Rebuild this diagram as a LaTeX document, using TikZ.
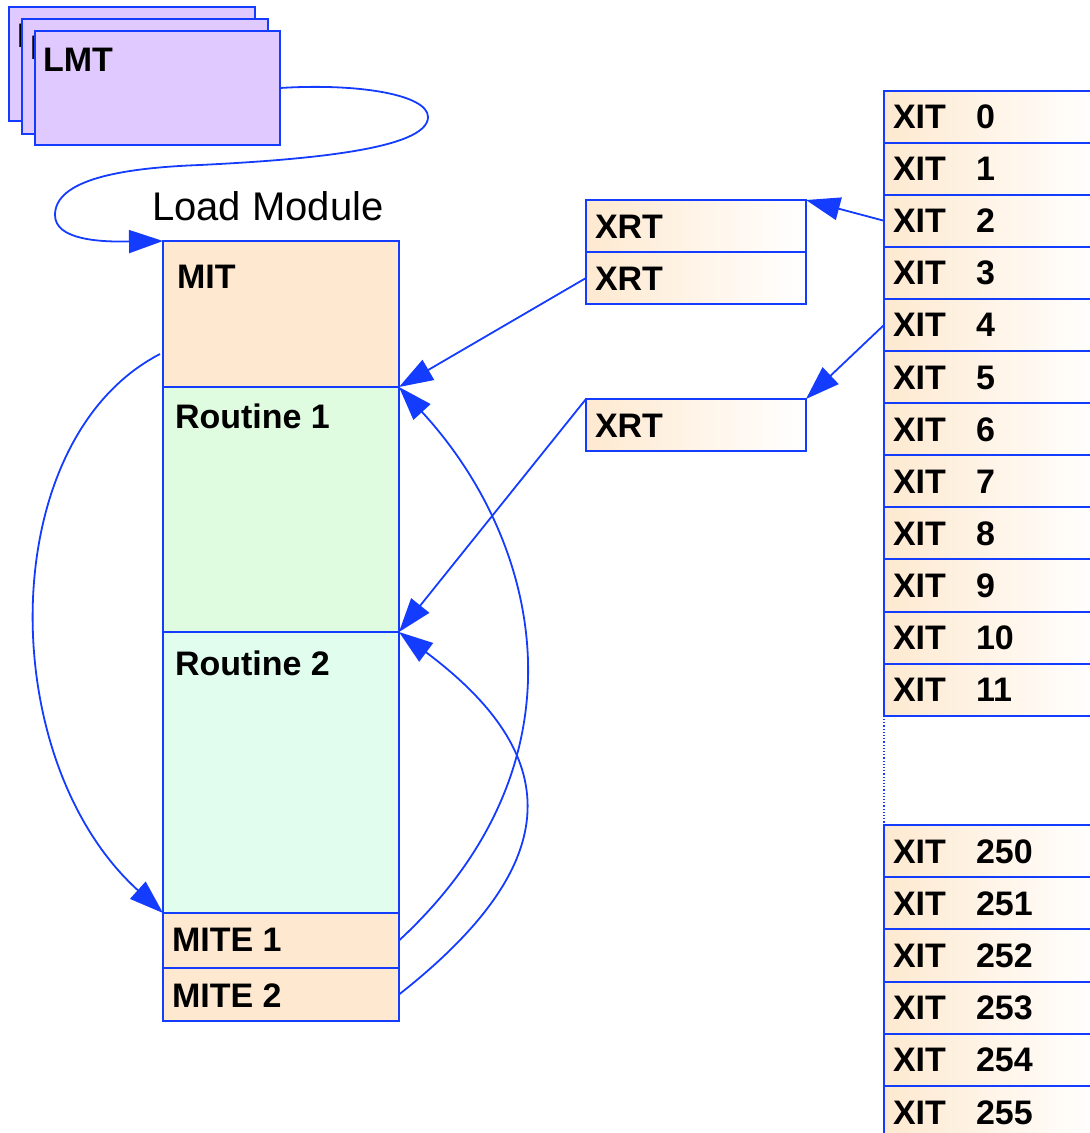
\documentclass[tikz,border=0pt]{standalone}
\usepackage{fontspec}
\setmainfont{Liberation Sans}
\usetikzlibrary{arrows.meta}
\definecolor{peach}{RGB}{254,233,208}
\definecolor{greenA}{RGB}{223,252,224}
\definecolor{greenB}{RGB}{224,253,238}
\definecolor{lav}{RGB}{223,201,255}
\definecolor{lblue}{RGB}{20,60,255}
\tikzset{
  box/.style={draw=lblue, line width=2pt, rectangle, inner sep=0pt, outer sep=0pt},
  lbl/.style={font=\fontsize{34}{40}\selectfont\bfseries, inner sep=0pt, outer sep=0pt, anchor=base west},
  conn/.style={draw=lblue, line width=1.8pt},
  arr/.style={conn, -{Triangle[length=34pt,width=23pt]}},
}
\begin{document}
\begin{tikzpicture}[x=1pt,y=-1pt]
\useasboundingbox (0,0) rectangle (1090,1133);
% LMT stack
\node[box, fill=lav, minimum width=246pt, minimum height=114pt, anchor=north west] (lmtA) at (9,7) {};
\node[lbl] (lmtAt) at ([shift={(8,40)}]lmtA.north west) {LMT};
\node[box, fill=lav, minimum width=246pt, minimum height=115pt, anchor=north west] (lmtB) at (22,19) {};
\node[lbl] (lmtBt) at ([shift={(8,40)}]lmtB.north west) {LMT};
\node[box, fill=lav, minimum width=245pt, minimum height=114pt, anchor=north west] (lmt) at (35,31) {};
\node[lbl] (lmtt) at ([shift={(8,40)}]lmt.north west) {LMT};

% Load module
\node[anchor=base west, inner sep=0pt, font=\fontsize{40}{48}\selectfont] (lm) at (152,220) {Load Module};
\node[box, fill=peach, minimum width=236pt, minimum height=146pt, anchor=north west] (mit) at (163,241) {};
\node[box, fill=greenA, minimum width=236pt, minimum height=245pt, anchor=north west] (r1) at (163,387) {};
\node[box, fill=greenB, minimum width=236pt, minimum height=281pt, anchor=north west] (r2) at (163,632) {};
\node[box, fill=peach, minimum width=236pt, minimum height=55pt, anchor=north west] (mite1) at (163,913) {};
\node[box, fill=peach, minimum width=236pt, minimum height=53pt, anchor=north west] (mite2) at (163,968) {};
\node[lbl] (mitt) at ([shift={(14,47)}]mit.north west) {MIT};
\node[lbl] (r1t) at ([shift={(12,41)}]r1.north west) {Routine 1};
\node[lbl] (r2t) at ([shift={(12,43)}]r2.north west) {Routine 2};
\node[lbl] (mite1t) at ([shift={(9,38)}]mite1.north west) {MITE 1};
\node[lbl] (mite2t) at ([shift={(9,39)}]mite2.north west) {MITE 2};

% XRT boxes
\node[box, left color=peach, right color=white, minimum width=220pt, minimum height=52pt, anchor=north west] (xrt1) at (586,200) {};
\node[box, left color=peach, right color=white, minimum width=220pt, minimum height=52pt, anchor=north west] (xrt2) at (586,252) {};
\node[box, left color=peach, right color=white, minimum width=220pt, minimum height=52pt, anchor=north west] (xrt3) at (586,399) {};
\node[lbl] (xrt1t) at ([shift={(9,38)}]xrt1.north west) {XRT};
\node[lbl] (xrt2t) at ([shift={(9,38)}]xrt2.north west) {XRT};
\node[lbl] (xrt3t) at ([shift={(9,38)}]xrt3.north west) {XRT};

% XIT column
\foreach \i in {0,...,11}{
  \node[box, left color=peach, right color=white, minimum width=216pt, minimum height=52.1pt, anchor=north west] (xit\i) at (884,{90.5+\i*52.1}) {};
  \node[lbl] (xitt\i) at ([shift={(9,38)}]xit\i.north west) {\makebox[83pt][l]{XIT}\i};
}
\foreach \i in {250,...,255}{
  \node[box, left color=peach, right color=white, minimum width=216pt, minimum height=52.2pt, anchor=north west] (xit\i) at (884,{825+(\i-250)*52.2}) {};
  \node[lbl] (xitt\i) at ([shift={(9,38)}]xit\i.north west) {\makebox[83pt][l]{XIT}\i};
}
\draw[conn, line width=1.2pt, dotted] (xit11.south west) -- (xit250.north west);

% connectors
\draw[arr] (lmt.east) .. controls (360,83) and (428,95) .. (428,117)
  .. controls (428,150) and (300,160) .. (200,165)
  .. controls (120,168) and (55,180) .. (55,215)
  .. controls (55,240) and (100,242) .. (mit.north west);
\draw[arr] (xit2.west) -- (xrt1.north east);
\draw[arr] (xit4.west) -- (xrt3.north east);
\draw[arr] (xrt2.west) -- (r1.north east);
\draw[arr] (xrt3.north west) -- (r2.north east);
\draw[arr] ([shift={(-3,-33)}]mit.south west) .. controls (-6,440) and (-6,760) .. (mite1.north west);
\draw[arr] (mite1.east) .. controls (594,760) and (540,540) .. (r1.north east);
\draw[arr] (mite2.east) .. controls (561,867) and (570,760) .. (r2.north east);
\end{tikzpicture}
\end{document}
